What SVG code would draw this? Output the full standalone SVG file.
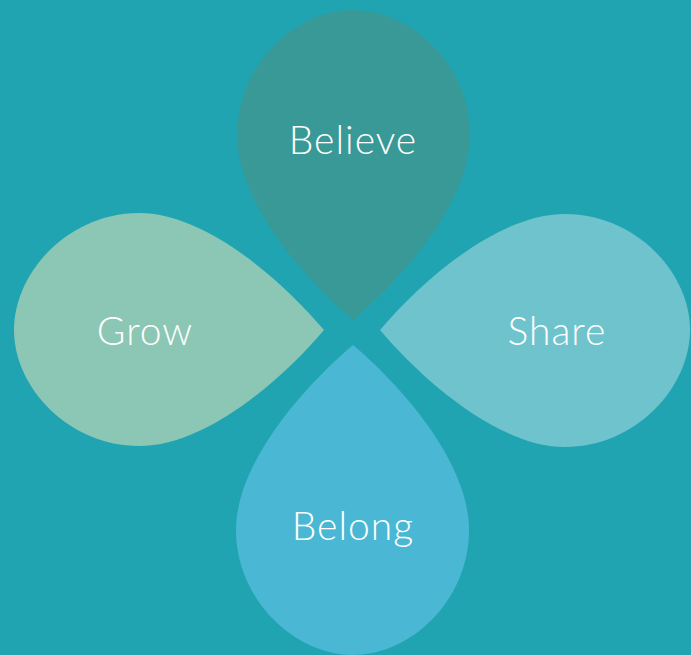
<svg xmlns="http://www.w3.org/2000/svg" width="691" height="655" viewBox="0 0 691 655">
<style>
.lbl{font-family:Lato,"Open Sans","Liberation Sans",sans-serif;font-weight:300;font-size:39px;letter-spacing:1px;fill:#ffffff;text-anchor:middle}
</style>
<defs>
<path id="drop" d="M0,0 C-53,-45 -116,-120 -116,-185 C-116,-255 -58,-310 0,-310 C58,-310 117,-255 117,-185 C117,-120 53,-45 0,0 Z"/>
</defs>
<rect width="691" height="655" fill="#21A4B1"/>
<g id="believe">
<use href="#drop" transform="translate(353,320)" fill="#389996"/>
<text class="lbl" x="353" y="154">Believe</text>
</g>
<g id="grow">
<use href="#drop" transform="translate(324,330) rotate(-90)" fill="#8BC7B4"/>
<text class="lbl" x="145" y="345">Grow</text>
</g>
<g id="share">
<use href="#drop" transform="translate(380,330) rotate(90)" fill="#6EC3CC"/>
<text class="lbl" x="557" y="345">Share</text>
</g>
<g id="belong">
<use href="#drop" transform="translate(353,345) rotate(180)" fill="#4AB8D4"/>
<text class="lbl" x="353" y="540">Belong</text>
</g>
<g id="connectors"/>
</svg>
